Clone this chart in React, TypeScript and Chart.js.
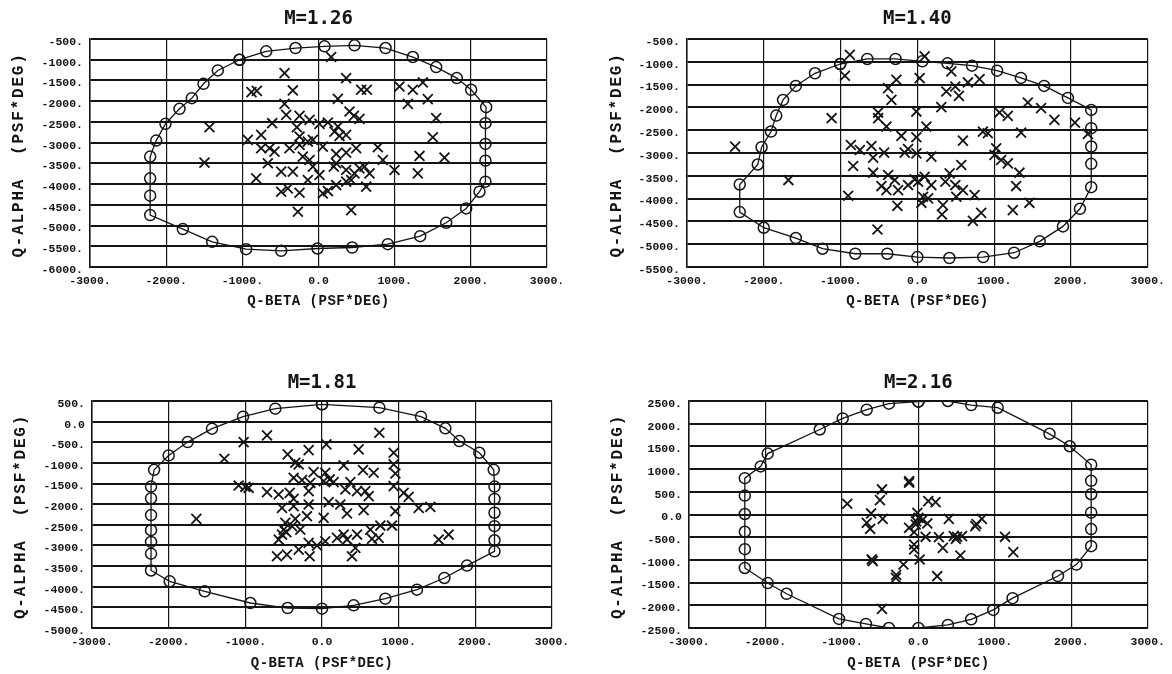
import React, { useEffect, useRef } from "react";
import { Chart, registerables } from "chart.js";

Chart.register(...registerables);

// ---------- axis / label data ----------
const X_MIN = -3000;
const X_MAX = 3000;
const X_STEP = 1000;
const Y_STEP = 500;
const TITLES = ["M=1.26", "M=1.40", "M=1.81", "M=2.16"];
const X_TITLES = ["Q-BETA (PSF*DEG)", "Q-BETA (PSF*DEG)", "Q-BETA (PSF*DEC)", "Q-BETA (PSF*DEC)"];
const Y_TITLE = "Q-ALPHA  (PSF*DEG)";
const Y_RANGES: [number, number][] = [
  [-6000, -500],
  [-5500, -500],
  [-5000, 500],
  [-2500, 2500],
];

// ---------- M=1.26 ----------
const M126_ENVELOPE: [number, number][] = [
  [-1037, -1000], [-687, -798], [-302, -718], [79, -677], [473, -653], [880, -718],
  [1238, -935], [1545, -1177], [1816, -1443], [2004, -1725], [2201, -2144], [2192, -2531],
  [2192, -3031], [2192, -3434], [2192, -3942], [2114, -4184], [1939, -4587], [1676, -4934],
  [1335, -5256], [910, -5449], [442, -5530], [-13, -5554], [-490, -5610], [-950, -5570],
  [-1396, -5392], [-1781, -5086], [-2210, -4748], [-2210, -4280], [-2210, -3861], [-2210, -3337],
  [-2131, -2950], [-2009, -2547], [-1825, -2184], [-1663, -1927], [-1510, -1580], [-1322, -1258],
];
const M126_POINTS: [number, number][] = [
  [166, -935], [-446, -1322], [363, -1443], [-880, -1780], [-810, -1750], [-337, -1741],
  [560, -1725], [635, -1725], [1063, -1645], [1238, -1725], [1370, -1548], [1173, -2064],
  [1435, -1951], [254, -1943], [-446, -2064], [407, -2249], [464, -2354], [538, -2426],
  [1545, -2410], [-424, -2330], [-249, -2354], [-118, -2450], [13, -2547], [123, -2515],
  [254, -2612], [-608, -2531], [-284, -2628], [-753, -2813], [-928, -2934], [-1431, -2628],
  [210, -2733], [363, -2813], [276, -2837], [1501, -2870], [-249, -2853], [-140, -2974],
  [-74, -2934], [-753, -3136], [-643, -3136], [-578, -3217], [-381, -3136], [-249, -3055],
  [57, -3095], [232, -3273], [363, -3241], [494, -3136], [779, -3112], [845, -3418],
  [998, -3660], [1326, -3321], [1654, -3362], [1304, -3741], [-1497, -3482], [-665, -3498],
  [-490, -3700], [-337, -3700], [-206, -3337], [-118, -3418], [-74, -3579], [13, -3781],
  [201, -3579], [232, -3498], [363, -3660], [473, -3741], [538, -3620], [604, -3579],
  [670, -3741], [363, -3942], [429, -3902], [626, -4063], [-818, -3862], [-490, -4184],
  [-403, -4103], [-249, -4208], [-140, -3902], [57, -4225], [123, -4168], [232, -4023],
  [-271, -4668], [429, -4627],
];

// ---------- M=1.40 ----------
const M140_ENVELOPE: [number, number][] = [
  [-1005, -1048], [-652, -938], [-284, -938], [64, -989], [392, -1033], [711, -1084],
  [1039, -1194], [1348, -1354], [1651, -1529], [1960, -1792], [2264, -2055], [2264, -2456],
  [2264, -2858], [2264, -3238], [2264, -3749], [2117, -4223], [1896, -4610], [1593, -4938],
  [1259, -5187], [858, -5282], [417, -5303], [0, -5282], [-392, -5209], [-809, -5209],
  [-1235, -5099], [-1583, -4865], [-2000, -4639], [-2313, -4296], [-2313, -3690], [-2078, -3252],
  [-2029, -2873], [-1906, -2529], [-1838, -2179], [-1749, -1836], [-1583, -1529], [-1333, -1252],
];
const M140_POINTS: [number, number][] = [
  [-879, -845], [95, -881], [-944, -1306], [-273, -1394], [30, -1358], [442, -1211],
  [-381, -1578], [-338, -1834], [377, -1651], [494, -1541], [541, -1746], [658, -1453],
  [810, -1380], [312, -1995], [-13, -2091], [-1117, -2237], [-511, -2113], [-511, -2237],
  [-403, -2420], [117, -2420], [1069, -2113], [1178, -2186], [1438, -1893], [1611, -2017],
  [1784, -2274], [2052, -2333], [2220, -2582], [853, -2530], [918, -2567], [1351, -2552],
  [-208, -2626], [-13, -2655], [593, -2728], [-866, -2824], [-749, -2934], [-598, -2846],
  [-433, -2992], [-121, -2912], [-165, -2992], [-13, -3007], [1026, -2897], [1004, -3043],
  [1091, -3153], [1178, -3227], [1329, -3432], [182, -3080], [-836, -3285], [-576, -3102],
  [-576, -3432], [-381, -3483], [-294, -3593], [-468, -3725], [-403, -3813], [-251, -3813],
  [-121, -3703], [-35, -3579], [9, -3630], [95, -3520], [182, -3703], [74, -3960],
  [52, -4092], [139, -3996], [364, -3630], [420, -3447], [494, -3703], [572, -3263],
  [593, -3813], [507, -3960], [745, -3923], [831, -4312], [723, -4488], [1286, -3725],
  [1243, -4253], [1459, -4092], [333, -4143], [320, -4348], [-260, -4158], [-901, -3938],
  [-520, -4678], [-2373, -2860], [-1680, -3593],
];

// ---------- M=1.81 ----------
const M181_ENVELOPE: [number, number][] = [
  [0, 420], [748, 338], [1291, 120], [1609, -163], [1791, -471], [2052, -754],
  [2240, -1167], [2250, -1573], [2250, -1874], [2250, -2207], [2250, -2532], [2250, -2874],
  [2250, -3142], [1891, -3488], [1596, -3788], [1239, -4071], [826, -4289], [413, -4451],
  [0, -4532], [-448, -4516], [-935, -4394], [-1530, -4111], [-1987, -3869], [-2230, -3606],
  [-2230, -3199], [-2230, -2915], [-2230, -2630], [-2230, -2264], [-2230, -1858], [-2230, -1573],
  [-2190, -1167], [-2000, -819], [-1752, -495], [-1435, -171], [-1030, 120], [-609, 314],
];
const M181_POINTS: [number, number][] = [
  [-717, -333], [-1022, -495], [57, -552], [748, -269], [-1274, -900], [-448, -794],
  [-348, -997], [-304, -1037], [-174, -689], [478, -673], [935, -754], [283, -1061],
  [535, -1175], [674, -1239], [935, -1037], [957, -1256], [-109, -1223], [43, -1239],
  [-370, -1361], [-261, -1417], [-152, -1482], [22, -1442], [100, -1401], [152, -1466],
  [370, -1466], [935, -1563], [-1087, -1547], [-1000, -1579], [-957, -1603], [-717, -1709],
  [-565, -1765], [-422, -1725], [-370, -1870], [-174, -1684], [304, -1644], [457, -1684],
  [565, -1684], [609, -1806], [1065, -1725], [1130, -1822], [-522, -2089], [-370, -2048],
  [-174, -2008], [87, -1951], [239, -2008], [326, -2226], [543, -2145], [957, -2170],
  [1261, -2089], [1413, -2065], [-1639, -2356], [-478, -2453], [-348, -2356], [-196, -2291],
  [22, -2332], [-391, -2534], [-500, -2615], [-522, -2736], [-465, -2679], [-283, -2615],
  [-565, -2857], [-174, -2938], [-65, -3003], [43, -2898], [196, -2817], [283, -2736],
  [326, -2857], [457, -2736], [630, -2615], [761, -2518], [913, -2518], [652, -2841],
  [739, -2817], [435, -3060], [391, -3262], [-587, -3262], [-457, -3221], [-304, -3100],
  [-161, -3262], [1522, -2857], [1652, -2736],
];

// ---------- M=2.16 ----------
const M216_ENVELOPE: [number, number][] = [
  [0, 2485], [386, 2500], [691, 2411], [1038, 2352], [1715, 1776], [1980, 1503],
  [2260, 1097], [2260, 742], [2260, 447], [2260, 41], [2260, -321], [2260, -698],
  [2067, -1104], [1826, -1355], [1232, -1842], [980, -2101], [691, -2308], [386, -2433],
  [0, -2500], [-386, -2500], [-686, -2411], [-1038, -2300], [-1724, -1746], [-1971, -1510],
  [-2270, -1178], [-2270, -764], [-2270, -380], [-2270, 11], [-2270, 417], [-2270, 801],
  [-2062, 1060], [-1971, 1341], [-1290, 1872], [-990, 2116], [-676, 2308], [-386, 2441],
];
const M216_POINTS: [number, number][] = [
  [-121, 699], [-121, 736], [-476, 552], [-502, 317], [-930, 236], [-618, 23],
  [-467, -95], [-675, -183], [-631, -315], [130, 295], [225, 273], [-13, 38],
  [0, -73], [52, -124], [117, -197], [-35, -220], [-121, -293], [-56, -389],
  [95, -491], [268, -499], [398, -95], [830, -95], [744, -256], [463, -477],
  [506, -491], [571, -477], [320, -734], [549, -903], [1133, -491], [1241, -830],
  [-56, -661], [-56, -771], [17, -991], [-195, -1102], [-294, -1396], [-597, -1028],
  [246, -1359], [-476, -2079], [490, -540], [760, -210], [-290, -1330], [-610, -990],
  [-30, -150],
];

const ENVELOPES = [M126_ENVELOPE, M140_ENVELOPE, M181_ENVELOPE, M216_ENVELOPE];
const POINTS = [M126_POINTS, M140_POINTS, M181_POINTS, M216_POINTS];

// ---------- layout (page pixels) ----------
const INK = "#141414";
const PANELS = [
  { left: 0, top: 0, width: 586, height: 335, area: { l: 90, r: 547, t: 39, b: 267 }, titleY: 19, xTitleY: 301, yTitleX: 19 },
  { left: 586, top: 0, width: 586, height: 335, area: { l: 687, r: 1149, t: 39, b: 267 }, titleY: 19, xTitleY: 301, yTitleX: 31 },
  { left: 0, top: 337, width: 586, height: 337, area: { l: 92, r: 552, t: 401, b: 628 }, titleY: 46, xTitleY: 326, yTitleX: 21 },
  { left: 586, top: 337, width: 586, height: 337, area: { l: 689, r: 1152, t: 401, b: 628 }, titleY: 46, xTitleY: 326, yTitleX: 32 },
];

const fmt = (v: number | string) => {
  const n = Number(v);
  return n === 0 ? "0.0" : `${n}.`;
};

const textPlugin = {
  id: "panelText",
  afterDraw(chart: any, _args: any, opts: any) {
    const ctx = chart.ctx as CanvasRenderingContext2D;
    const { left, right, top, bottom } = chart.chartArea;
    const cx = (left + right) / 2;
    ctx.save();
    ctx.fillStyle = INK;
    ctx.textAlign = "center";
    ctx.textBaseline = "middle";
    ctx.font = 'bold 19px "DejaVu Sans Mono"';
    ctx.fillText(opts.title, cx, opts.titleY);
    (ctx as any).letterSpacing = "0.5px";
    ctx.font = 'bold 14px "Liberation Mono"';
    ctx.fillText(opts.xTitle, cx, opts.xTitleY);
    ctx.translate(opts.yTitleX, (top + bottom) / 2 + 2);
    ctx.rotate(-Math.PI / 2);
    (ctx as any).letterSpacing = "1.8px";
    ctx.font = 'bold 16px "Liberation Mono"';
    ctx.fillText(opts.yTitle, 0, 0);
    ctx.restore();
  },
};

type PanelProps = { index: number };

function Panel({ index }: PanelProps) {
  const ref = useRef<HTMLCanvasElement | null>(null);
  const p = PANELS[index];

  useEffect(() => {
    if (!ref.current) return;
    const padTop = p.area.t - p.top;
    const padRight = p.left + p.width - p.area.r;
    const yWidth = p.area.l - p.left;
    const xHeight = p.top + p.height - p.area.b;
    const env = ENVELOPES[index];
    const closed = [...env, env[0]].map(([x, y]) => ({ x, y }));
    const pts = POINTS[index].map(([x, y]) => ({ x, y }));
    const [yMin, yMax] = Y_RANGES[index];
    const tickFont = { family: '"Liberation Mono"', size: 11.5, weight: "bold" as const };

    const chart = new Chart(ref.current, {
      type: "scatter",
      data: {
        datasets: [
          {
            data: pts,
            showLine: false,
            pointStyle: "crossRot",
            pointRadius: 7,
            pointBorderWidth: 1.8,
            pointBorderColor: INK,
            pointBackgroundColor: INK,
          },
          {
            data: closed,
            showLine: true,
            borderColor: INK,
            borderWidth: 1.3,
            tension: 0,
            pointStyle: "circle",
            pointRadius: 5.5,
            pointBorderWidth: 1.5,
            pointBorderColor: INK,
            pointBackgroundColor: "rgba(0,0,0,0)",
          },
        ],
      },
      options: {
        responsive: false,
        maintainAspectRatio: false,
        animation: false,
        events: [],
        layout: { padding: { top: padTop, right: padRight, left: 0, bottom: 0 } },
        plugins: {
          legend: { display: false },
          tooltip: { enabled: false },
          title: { display: false },
          panelText: {
            title: TITLES[index],
            xTitle: X_TITLES[index],
            yTitle: Y_TITLE,
            titleY: p.titleY,
            xTitleY: p.xTitleY,
            yTitleX: p.yTitleX,
          },
        } as any,
        scales: {
          x: {
            type: "linear",
            min: X_MIN,
            max: X_MAX,
            afterFit: (s: any) => {
              s.height = xHeight;
            },
            ticks: {
              stepSize: X_STEP,
              callback: fmt,
              font: tickFont,
              color: INK,
              padding: 7,
              maxRotation: 0,
              autoSkip: false,
            },
            grid: { color: INK, lineWidth: 1.2, drawTicks: false },
            border: { display: true, color: INK, width: 1.5 },
          },
          y: {
            type: "linear",
            min: yMin,
            max: yMax,
            afterFit: (s: any) => {
              s.width = yWidth;
            },
            ticks: {
              stepSize: Y_STEP,
              callback: fmt,
              font: tickFont,
              color: INK,
              padding: 7,
              labelOffset: 3,
              autoSkip: false,
            },
            grid: { color: INK, lineWidth: 2, drawTicks: false },
            border: { display: true, color: INK, width: 1.5 },
          },
        },
      },
      plugins: [textPlugin],
    } as any);

    return () => chart.destroy();
  }, [index]);

  return (
    <canvas
      ref={ref}
      width={p.width}
      height={p.height}
      style={{ position: "absolute", left: p.left, top: p.top, width: p.width, height: p.height }}
    />
  );
}

export default function App() {
  return (
    <div
      style={{
        position: "fixed",
        left: 0,
        top: 0,
        width: 1172,
        height: 674,
        background: "#ffffff",
        overflow: "hidden",
      }}
    >
      {PANELS.map((_, i) => (
        <Panel key={i} index={i} />
      ))}
    </div>
  );
}
